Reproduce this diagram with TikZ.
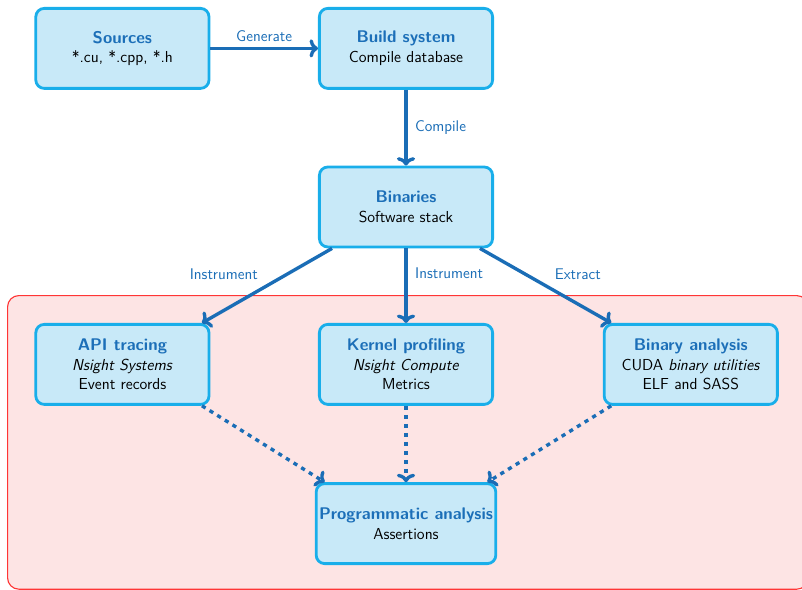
\documentclass[tikz,border=0pt]{standalone}
\usetikzlibrary{arrows.meta}

\definecolor{boxfill}{HTML}{C8E9F8}
\definecolor{boxline}{HTML}{19AEEA}
\definecolor{titleblue}{HTML}{1C6FB8}
\definecolor{flowblue}{HTML}{1A6DB6}
\definecolor{zonefill}{HTML}{FDE4E4}
\definecolor{zoneline}{HTML}{FF3535}

\newcommand{\boxtitle}[1]{\textcolor{titleblue}{\fontsize{12}{14}\selectfont\bfseries #1}}

\begin{document}
\begin{tikzpicture}[font=\sffamily\fontsize{11.3}{14}\selectfont,
		box/.style={rectangle, rounded corners=6pt, draw=boxline, fill=boxfill, line width=2pt,
			minimum width=4.33cm, minimum height=2.0cm, align=center, inner sep=2pt},
		flow/.style={draw=flowblue, line width=2.4pt, -{Computer Modern Rightarrow[length=6pt, width=13pt]}},
		probe/.style={flow, dash pattern=on 3pt off 3.4pt},
		lbl/.style={text=flowblue, font=\sffamily\fontsize{11}{13}\selectfont}]
		% \draw[help lines] (0,0) grid (20,15);
		\useasboundingbox (0,0) rectangle (20.05,14.75);
		\draw[rounded corners=8pt, draw=zoneline, fill=zonefill, line width=0.8pt] (0.19,0.02) rectangle (20.2,7.36);

		\node[box] (src) at (3.06,13.54) {\boxtitle{Sources}\\ *.cu, *.cpp, *.h};
		\node[box] (build) at (10.15,13.54) {\boxtitle{Build system}\\ Compile database};
		\node[box] (bin) at (10.15,9.575) {\boxtitle{Binaries}\\ Software stack};
		\node[box] (api) at (3.06,5.64) {\boxtitle{API tracing}\\ \textit{Nsight Systems}\\ Event records};
		\node[box] (kern) at (10.15,5.64) {\boxtitle{Kernel profiling}\\ \textit{Nsight Compute}\\ Metrics};
		\node[box] (bina) at (17.27,5.64) {\boxtitle{Binary analysis}\\ CUDA \textit{binary utilities}\\ ELF and SASS};
		\node[box, minimum width=4.45cm] (prog) at (10.15,1.66) {\boxtitle{Programmatic analysis}\\ Assertions};

		\draw[flow] (src) -- node[lbl, above] {Generate} (build);
		\draw[flow] (build) -- node[lbl, right, xshift=2pt] {Compile} (bin);
		\draw[flow] ([xshift=10pt]bin.south west) -- node[lbl, above left, xshift=-2pt] {Instrument} ([xshift=-6pt]api.north east);
		\draw[flow] (bin) -- node[lbl, right, xshift=2pt, yshift=9pt] {Instrument} (kern);
		\draw[flow] ([xshift=-10pt]bin.south east) -- node[lbl, above right, xshift=2pt] {Extract} ([xshift=6pt]bina.north west);

		\draw[probe] ([xshift=-6pt]api.south east) -- ([xshift=7pt]prog.north west);
		\draw[probe] (kern) -- (prog);
		\draw[probe] ([xshift=6pt]bina.south west) -- ([xshift=-7pt]prog.north east);
	\end{tikzpicture}
\end{document}
